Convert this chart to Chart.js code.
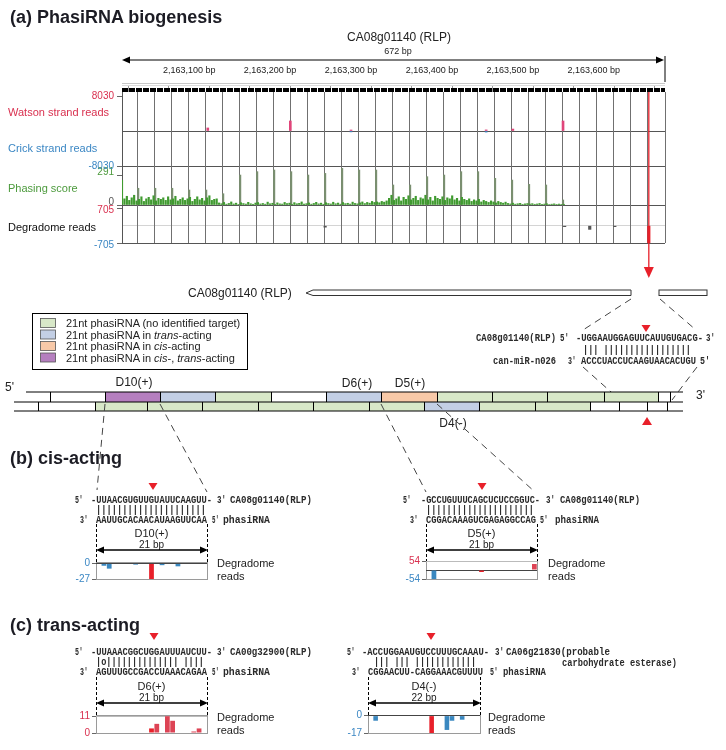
<!DOCTYPE html>
<html>
<head>
<meta charset="utf-8">
<title>PhasiRNA biogenesis</title>
<script src="https://cdn.jsdelivr.net/npm/chart.js@4.4.1/dist/chart.umd.min.js"></script>
<style>
  body { margin: 0; background: #fff; }
  #page { position: relative; width: 726px; height: 750px; overflow: hidden; background: #fff; }
  #page canvas { position: absolute; }
  #overlay { position: absolute; left: 0; top: 0; pointer-events: none; }
</style>
</head>
<body>
<div id="page">
  <canvas id="trackChart" width="726" height="282" style="left:0;top:0"></canvas>
  <canvas id="d10Chart"></canvas>
  <canvas id="d5Chart"></canvas>
  <canvas id="d6Chart"></canvas>
  <canvas id="d4Chart"></canvas>
  <svg id="overlay" width="726" height="750"></svg>
</div>
<script>
// ---- top track: genomic window of CA08g01140 ----
const trackStart = 2163017;
const trackEnd = 2163688;
const rulerTicks = [2163050, 2163100, 2163150, 2163200, 2163250, 2163300, 2163350,
  2163400, 2163450, 2163500, 2163550, 2163600, 2163650];
const phaseRegisterStart = 2163036;
const phaseRegisterCount = 31;
const phaseLength = 21;
const cleavageSite = 2163668;

const watsonPos = [2163123, 2163225, 2163300, 2163467, 2163500, 2163562];
const watsonReads = [700, 2300, 230, 250, 450, 2300];
const crickPos = [2163300, 2163467];
const crickReads = [-200, -250];

const phasePeakPos = [2163037, 2163058, 2163079, 2163100, 2163121, 2163142, 2163163,
  2163184, 2163205, 2163226, 2163247, 2163268, 2163289, 2163310, 2163331, 2163352,
  2163373, 2163394, 2163415, 2163436, 2163457, 2163478, 2163499, 2163520, 2163541, 2163562];
const phasePeakScore = [163, 163, 163, 146, 146, 110, 292, 325, 341, 325, 292, 308, 357,
  341, 341, 195, 195, 276, 292, 325, 325, 260, 243, 201, 195, 49];

// phasing score between registers, one value every 3 bp from trackStart
const noiseStep = 3;
const phasingNoise = [
  240, 60, 85, 45, 70, 95, 40, 55, 80, 35,
  60, 75, 50, 90, 40, 65, 55, 70, 45, 80,
  50, 60, 85, 40, 55, 70, 45, 60, 75, 35,
  55, 80, 50, 65, 40, 70, 90, 45, 55, 60,
  20, 12, 25, 8, 15, 30, 10, 18, 6, 22,
  14, 9, 26, 12, 7, 19, 24, 10, 15, 8,
  28, 12, 17, 6, 21, 11, 9, 25, 14, 18,
  7, 23, 12, 16, 30, 9, 13, 20, 8, 15,
  26, 11, 18, 7, 22, 14, 10, 27, 12, 19,
  8, 24, 13, 17, 9, 28, 15, 11, 21, 30,
  14, 25, 18, 35, 25, 30, 22, 35, 28, 40,
  65, 95, 45, 60, 80, 40, 75, 55, 90, 50,
  65, 85, 45, 70, 60, 95, 50, 75, 40, 85,
  65, 55, 80, 45, 70, 60, 90, 50, 65, 40,
  75, 55, 45, 60, 35, 50, 40, 55, 30, 45,
  35, 25, 40, 30, 20, 35, 25, 18, 28, 15,
  10, 18, 8, 12, 16, 6, 11, 14, 9, 13,
  7, 10, 15, 6, 9, 12, 5, 8, 11, 6,
  9, 4, 7
];

const degradomePos = [2163268, 2163564, 2163595, 2163626, 2163668];
const degradomeReads = [-60, -40, -150, -40, -760];

// ---- degradome reads per nt over each target site ----
const d10Reads = [0, -4, -9, 0, 0, 0, 0, -2, 0, 0, -27, 0, -3, 0, 0, -5, 0, 0, 0, 0, 0];
const d10Cut = 10;
const d5Reads = [0, -54, 0, 0, 0, 0, 0, 0, 0, 0, -12, 0, 0, 0, 0, 0, 0, 0, 0, 0, 36];
const d5Cut = 10;
const d6Reads = [0, 0, 0, 0, 0, 0, 0, 0, 0, 0, 3, 6, 0, 11, 8, 0, 0, 0, 1, 3, 0];
const d6Cut = 10;
const d4Reads = [0, -5, 0, 0, 0, 0, 0, 0, 0, 0, 0, 0, -17, 0, 0, -14, -5, 0, -4, 0, 0, 0];
const d4Cut = 12;

const RED = '#e8202a';
const PINK = '#d9304f';
const BLUE = '#3b87c4';
const GREEN = '#4c9a3c';
const FONT = 'Arial, "Liberation Sans", sans-serif';

// vertical phase registers, right border and the red cleavage marker
const trackLines = {
  id: 'trackLines',
  beforeDatasetsDraw(chart) {
    const {ctx, chartArea: a, scales: {x}} = chart;
    ctx.save();
    ctx.strokeStyle = '#707070';
    ctx.lineWidth = 1;
    ctx.beginPath();
    for (let k = 0; k < phaseRegisterCount; k++) {
      const px = Math.round(x.getPixelForValue(phaseRegisterStart + phaseLength * k)) + 0.5;
      ctx.moveTo(px, a.top);
      ctx.lineTo(px, a.bottom);
    }
    ctx.moveTo(Math.round(a.right) + 0.5, a.top);
    ctx.lineTo(Math.round(a.right) + 0.5, a.bottom);
    ctx.stroke();
    ctx.restore();
  },
  afterDatasetsDraw(chart) {
    const {ctx, chartArea: a, scales: {x}} = chart;
    const px = x.getPixelForValue(cleavageSite);
    const end = a.bottom + 25;
    ctx.save();
    ctx.strokeStyle = RED;
    ctx.lineWidth = 1.3;
    ctx.beginPath();
    ctx.moveTo(px, a.top);
    ctx.lineTo(px, end);
    ctx.stroke();
    ctx.fillStyle = RED;
    ctx.beginPath();
    ctx.moveTo(px - 5, end - 1);
    ctx.lineTo(px + 5, end - 1);
    ctx.lineTo(px, end + 10);
    ctx.closePath();
    ctx.fill();
    ctx.restore();
  }
};

function trackAxis(weight, min, max, ticks, labelled, colorOf, solid, light, shift) {
  return {
    stack: 'tracks', stackWeight: weight, position: 'left', min: min, max: max,
    afterBuildTicks: s => { s.ticks = ticks.map(v => ({value: v})); },
    afterFit: s => { s.width = 122; },
    border: {display: true, color: '#555'},
    grid: {
      color: c => solid.includes(c.tick.value) ? '#555' : (light.includes(c.tick.value) ? '#d4d4d4' : 'rgba(0,0,0,0)'),
      tickColor: c => labelled.includes(c.tick.value) ? '#666' : 'rgba(0,0,0,0)',
      tickLength: 5
    },
    ticks: {
      autoSkip: false, padding: 3, labelOffset: shift || 0,
      font: {size: 10, family: FONT},
      color: c => colorOf(c.tick.value),
      callback: v => labelled.includes(v) ? String(v) : ''
    }
  };
}

new Chart(document.getElementById('trackChart'), {
  type: 'bar',
  data: {
    datasets: [
      {yAxisID: 'yW', data: watsonPos.map((p, i) => ({x: p, y: watsonReads[i]})), backgroundColor: '#e0457a', barThickness: 2},
      {yAxisID: 'yC', data: crickPos.map((p, i) => ({x: p, y: crickReads[i]})), backgroundColor: BLUE, barThickness: 2},
      {yAxisID: 'yP', data: phasingNoise.map((v, i) => ({x: trackStart + noiseStep * i, y: v})), backgroundColor: '#3f9a2f', barThickness: 1.5},
      {yAxisID: 'yP', data: phasePeakPos.map((p, i) => ({x: p, y: phasePeakScore[i]})), backgroundColor: '#7a8f70', barThickness: 1.5},
      {yAxisID: 'yD', data: degradomePos.map((p, i) => ({x: p, y: degradomeReads[i]})),
        backgroundColor: degradomePos.map(p => p === cleavageSite ? RED : '#555'),
        barThickness: 2.5}
    ]
  },
  options: {
    responsive: false,
    animation: false,
    layout: {padding: {top: 60, right: 61, bottom: 39, left: 0}},
    plugins: {legend: {display: false}, tooltip: {enabled: false}},
    datasets: {bar: {grouped: false}},
    scales: {
      x: {
        type: 'linear', position: 'top', min: trackStart, max: trackEnd, offset: false,
        afterBuildTicks: s => { s.ticks = rulerTicks.map(v => ({value: v})); },
        afterFit: s => { s.height = 32; },
        border: {display: false},
        grid: {drawOnChartArea: false, tickLength: 7, color: '#999'},
        ticks: {
          autoSkip: false, maxRotation: 0, padding: 9,
          font: {size: 9, family: FONT}, color: '#222',
          callback: v => v % 100 === 0 ? v.toLocaleString('en-US') + ' bp' : ''
        }
      },
      // stacked left axes: the last one listed is placed on top
      yD: trackAxis(38, -705, 843, [-705, 0, 705], [-705, 705], v => v > 0 ? PINK : BLUE, [-705], [0], 2),
      yP: trackAxis(39, 0, 380, [0, 291], [0, 291], v => v === 291 ? GREEN : '#555', [0], [], -3),
      yC: trackAxis(35, -8030, 0, [-8030, 0], [-8030], () => BLUE, [-8030, 0], []),
      yW: trackAxis(39, 0, 8950, [0, 8030], [8030], () => PINK, [0], [])
    }
  },
  plugins: [trackLines]
});

// ---- small degradome panels ----
const miniBox = {
  id: 'miniBox',
  beforeDraw(chart) {
    const {ctx, chartArea: a} = chart;
    ctx.save();
    ctx.strokeStyle = '#9a9a9a';
    ctx.lineWidth = 1;
    ctx.strokeRect(Math.round(a.left) + 0.5, Math.round(a.top) + 0.5, Math.round(a.width), Math.round(a.height));
    ctx.restore();
  }
};

function miniChart(id, box, reads, cut, yMin, yMax, ticks, labelled, colorOf, solid, light) {
  const cv = document.getElementById(id);
  const left = 30;
  cv.width = box.right - left + 3;
  cv.height = box.bottom - box.top + 16;
  cv.style.left = left + 'px';
  cv.style.top = (box.top - 8) + 'px';
  new Chart(cv, {
    type: 'bar',
    data: {
      labels: reads.map((_, i) => String(i + 1)),
      datasets: [{
        data: reads,
        backgroundColor: reads.map((v, i) => i === cut ? RED : (v > 0 ? '#dd4455' : '#3a88c0')),
        barPercentage: 1, categoryPercentage: 0.9
      }]
    },
    options: {
      responsive: false,
      animation: false,
      layout: {padding: {top: 8, bottom: 8, right: 3, left: 0}},
      plugins: {legend: {display: false}, tooltip: {enabled: false}},
      scales: {
        x: {display: false},
        y: {
          min: yMin, max: yMax,
          afterBuildTicks: s => { s.ticks = ticks.map(v => ({value: v})); },
          afterFit: s => { s.width = box.left - left; },
          border: {display: false},
          grid: {
            color: c => solid.includes(c.tick.value) ? '#444' : (light.includes(c.tick.value) ? '#bbb' : 'rgba(0,0,0,0)'),
            tickColor: c => labelled.includes(c.tick.value) ? '#666' : 'rgba(0,0,0,0)',
            tickLength: 4
          },
          ticks: {
            autoSkip: false, padding: 2,
            font: {size: 10, family: FONT},
            color: c => colorOf(c.tick.value),
            callback: v => labelled.includes(v) ? String(v) : ''
          }
        }
      }
    },
    plugins: [miniBox]
  });
}

miniChart('d10Chart', {left: 96, right: 207, top: 562, bottom: 579}, d10Reads, d10Cut,
  -27, 2.5, [0, -27], [0, -27], () => BLUE, [0], []);
miniChart('d5Chart', {left: 426, right: 537, top: 561, bottom: 579}, d5Reads, d5Cut,
  -54, 54, [54, 0, -54], [54, -54], v => v > 0 ? PINK : BLUE, [0], [54]);
miniChart('d6Chart', {left: 96, right: 207, top: 715, bottom: 733}, d6Reads, d6Cut,
  0, 11.8, [11, 0], [11, 0], () => PINK, [], [11]);
miniChart('d4Chart', {left: 368, right: 480, top: 715, bottom: 733}, d4Reads, d4Cut,
  -17, 0.6, [0, -17], [0, -17], () => BLUE, [0], []);

// ---- schematic overlay ----
const svg = document.getElementById('overlay');
const NS = 'http://www.w3.org/2000/svg';
function el(tag, attrs, text) {
  const e = document.createElementNS(NS, tag);
  for (const k in attrs) e.setAttribute(k, attrs[k]);
  if (text !== undefined) e.textContent = text;
  svg.appendChild(e);
  return e;
}
function txt(x, y, s, size, extra) {
  return el('text', Object.assign({x: x, y: y, 'font-size': size, 'font-family': FONT, fill: '#222'}, extra || {}), s);
}
function mono(x, y, s, len) {
  return el('text', {x: x, y: y, 'font-size': 10.5, 'font-weight': 'bold',
    'font-family': '"Liberation Mono", "Courier New", monospace',
    fill: '#2a2a2a', textLength: len, lengthAdjust: 'spacingAndGlyphs'}, s);
}
function line(x1, y1, x2, y2, stroke, w, dash) {
  const a = {x1: x1, y1: y1, x2: x2, y2: y2, stroke: stroke || '#000', 'stroke-width': w || 1};
  if (dash) a['stroke-dasharray'] = dash;
  return el('line', a);
}
function downTri(cx, top) {
  el('polygon', {points: `${cx - 4.5},${top} ${cx + 4.5},${top} ${cx},${top + 7}`, fill: RED});
}
function doubleArrow(x1, x2, y) {
  line(x1 + 6, y, x2 - 6, y, '#000', 1.3);
  el('polygon', {points: `${x1},${y} ${x1 + 8},${y - 3.5} ${x1 + 8},${y + 3.5}`, fill: '#000'});
  el('polygon', {points: `${x2},${y} ${x2 - 8},${y - 3.5} ${x2 - 8},${y + 3.5}`, fill: '#000'});
}

// titles
txt(10, 23, '(a) PhasiRNA biogenesis', 18, {'font-weight': 'bold', fill: '#1c1c24'});
txt(10, 464, '(b) cis-acting', 18, {'font-weight': 'bold', fill: '#1c1c24'});
txt(10, 631, '(c) trans-acting', 18, {'font-weight': 'bold', fill: '#1c1c24'});

// gene header
txt(399, 41, 'CA08g01140 (RLP)', 12, {'text-anchor': 'middle'});
txt(398, 54, '672 bp', 9, {'text-anchor': 'middle'});
line(128, 60, 658, 60, '#000', 1);
el('polygon', {points: '122,60 130,56.5 130,63.5', fill: '#000'});
el('polygon', {points: '664,60 656,56.5 656,63.5', fill: '#000'});
line(665, 56, 665, 82, '#000', 1);
line(122, 83.5, 665, 83.5, '#c8c8c8', 1);
line(122, 85.5, 665, 85.5, '#dcdcdc', 1);
line(122, 90, 665, 90, '#000', 4, '6 1');

// track labels
txt(8, 116, 'Watson strand reads', 11, {fill: PINK});
txt(8, 152, 'Crick strand reads', 11, {fill: BLUE});
txt(8, 192, 'Phasing score', 11, {fill: GREEN});
txt(8, 231, 'Degradome reads', 11, {fill: '#111'});

// gene model
txt(188, 297, 'CA08g01140 (RLP)', 12);
el('polygon', {points: '306,293 313,290 631,290 631,295.5 313,295.5', fill: '#fff', stroke: '#333', 'stroke-width': 1});
el('rect', {x: 659, y: 290, width: 48, height: 5.5, fill: '#fff', stroke: '#333', 'stroke-width': 1});

// miRNA target alignment
line(631, 299, 583, 330, '#444', 1, '7 5');
line(660, 299, 696, 330, '#444', 1, '7 5');
downTri(646, 325);
mono(476, 341, 'CA08g01140(RLP)', 80);
mono(560, 341, "5'", 9);
mono(576, 341, '-UGGAAUGGAGUUCAUUGUGACG-', 127);
mono(706, 341, "3'", 9);
mono(583, 353, '||| |||||||||||||||||', 108);
mono(493, 364, 'can-miR-n026', 63);
mono(568, 364, "3'", 8);
mono(581, 364, 'ACCCUACCUCAAGUAACACUGU', 115);
mono(700, 364, "5'", 10);
line(583, 367, 620, 400, '#444', 1, '7 5');
line(697, 367, 672, 400, '#444', 1, '7 5');

// legend
el('rect', {x: 32.5, y: 313.5, width: 215, height: 56, fill: '#fff', stroke: '#000', 'stroke-width': 1});
const legendFill = ['#d8e8c8', '#c3cfe5', '#f8c9a8', '#b57fbf'];
const legendText = [
  [['21nt phasiRNA (no identified target)', false]],
  [['21nt phasiRNA in ', false], ['trans', true], ['-acting', false]],
  [['21nt phasiRNA in ', false], ['cis', true], ['-acting', false]],
  [['21nt phasiRNA in ', false], ['cis', true], ['-, ', false], ['trans', true], ['-acting', false]]
];
legendFill.forEach((f, i) => {
  const cy = 323 + i * 11.5;
  el('rect', {x: 40.5, y: cy - 4.5, width: 15, height: 9, fill: f, stroke: '#555', 'stroke-width': 0.8});
  const t = txt(66, cy + 4, '', 11);
  legendText[i].forEach(([s, it]) => {
    const sp = document.createElementNS(NS, 'tspan');
    sp.textContent = s;
    if (it) sp.setAttribute('font-style', 'italic');
    t.appendChild(sp);
  });
});

// phasiRNA strip (two registers of 21-nt phasiRNAs)
const stripColor = {w: '#fff', G: '#d8e8c8', B: '#c3cfe5', O: '#f8c9a8', P: '#b57fbf'};
const row1Edges = [28, 50, 105, 160, 215, 271, 326, 381, 437, 492, 547, 604, 658, 670];
const row1Kind = ['w', 'w', 'P', 'B', 'G', 'w', 'B', 'O', 'G', 'G', 'G', 'G', 'w'];
const row2Edges = [16, 38, 95, 147, 202, 258, 313, 369, 424, 479, 535, 590, 619, 647, 667];
const row2Kind = ['w', 'w', 'G', 'G', 'G', 'G', 'G', 'G', 'B', 'G', 'G', 'w', 'w', 'w'];
function stripRow(edges, kinds, top, bottom) {
  kinds.forEach((k, i) => {
    el('rect', {x: edges[i], y: top, width: edges[i + 1] - edges[i], height: bottom - top, fill: stripColor[k]});
  });
  edges.slice(1).forEach(x => line(x + 0.5, top, x + 0.5, bottom, '#000', 1));
}
stripRow(row1Edges, row1Kind, 392, 402);
stripRow(row2Edges, row2Kind, 402, 411);
line(26, 392, 683, 392, '#000', 1);
line(14, 402, 683, 402, '#000', 1);
line(14, 411, 683, 411, '#000', 1);
txt(5, 391, "5'", 12);
txt(696, 399, "3'", 12);
txt(134, 386, 'D10(+)', 12, {'text-anchor': 'middle'});
txt(357, 387, 'D6(+)', 12, {'text-anchor': 'middle'});
txt(410, 387, 'D5(+)', 12, {'text-anchor': 'middle'});
txt(453, 427, 'D4(-)', 12, {'text-anchor': 'middle'});
el('polygon', {points: '642,425 652,425 647,417', fill: RED});

// zoom lines into (b)
line(105, 404, 97, 490, '#444', 1, '7 5');
line(160, 404, 207, 492, '#444', 1, '7 5');
line(381, 404, 426, 492, '#444', 1, '7 5');
line(437, 404, 535, 492, '#444', 1, '7 5');

function siteFrame(x1, x2, top, bottom, name, len, labelX, readsY) {
  line(x1 + 0.5, top, x1 + 0.5, bottom, '#000', 1, '3 2');
  line(x2 + 0.5, top, x2 + 0.5, bottom, '#000', 1, '3 2');
  const mid = (x1 + x2) / 2;
  txt(mid, top + 13, name, 11, {'text-anchor': 'middle'});
  txt(mid, top + 24, len, 10, {'text-anchor': 'middle'});
  doubleArrow(x1, x2 + 1, top + 26);
  txt(labelX, readsY, 'Degradome', 11);
  txt(labelX, readsY + 13, 'reads', 11);
}

// (b) D10(+)
downTri(153, 483);
mono(75, 503, "5'", 8);
mono(91, 503, '-UUAACGUGUUGUAUUCAAGUU-', 121);
mono(217, 503, "3'", 9);
mono(230, 503, 'CA08g01140(RLP)', 82);
mono(96, 513, '|||||||||||||||||||||', 110);
mono(80, 523, "3'", 8);
mono(96, 523, 'AAUUGCACAACAUAAGUUCAA', 111);
mono(212, 523, "5'", 7);
mono(223, 523, 'phasiRNA', 47);
siteFrame(96, 207, 524, 562, 'D10(+)', '21 bp', 217, 567);

// (b) D5(+)
downTri(482, 483);
mono(403, 503, "5'", 8);
mono(421, 503, '-GCCUGUUUCAGCUCUCCGGUC-', 119);
mono(546, 503, "3'", 9);
mono(560, 503, 'CA08g01140(RLP)', 80);
mono(426, 513, '|||||||||||||||||||||', 108);
mono(410, 523, "3'", 8);
mono(426, 523, 'CGGACAAAGUCGAGAGGCCAG', 110);
mono(540, 523, "5'", 8);
mono(555, 523, 'phasiRNA', 44);
siteFrame(426, 537, 524, 561, 'D5(+)', '21 bp', 548, 567);

// (c) D6(+)
downTri(154, 633);
mono(75, 655, "5'", 8);
mono(91, 655, '-UUAAACGGCUGGAUUUAUCUU-', 121);
mono(217, 655, "3'", 9);
mono(230, 655, 'CA00g32900(RLP)', 82);
mono(96, 665, '|o|||||||||||||| ||||', 108);
mono(80, 675, "3'", 8);
mono(96, 675, 'AGUUUGCCGACCUAAACAGAA', 111);
mono(212, 675, "5'", 7);
mono(223, 675, 'phasiRNA', 47);
siteFrame(96, 207, 677, 715, 'D6(+)', '21 bp', 217, 721);

// (c) D4(-)
downTri(431, 633);
mono(347, 655, "5'", 8);
mono(362, 655, '-ACCUGGAAUGUCCUUUGCAAAU-', 127);
mono(495, 655, "3'", 9);
mono(506, 655, 'CA06g21830(probable', 104);
mono(562, 666, 'carbohydrate esterase)', 115);
mono(374, 665, '||| |||  ||||||||||||', 102);
mono(352, 675, "3'", 8);
mono(368, 675, 'CGGAACUU-CAGGAAACGUUUU', 115);
mono(490, 675, "5'", 8);
mono(503, 675, 'phasiRNA', 43);
siteFrame(368, 480, 677, 715, 'D4(-)', '22 bp', 488, 721);
</script>
</body>
</html>
